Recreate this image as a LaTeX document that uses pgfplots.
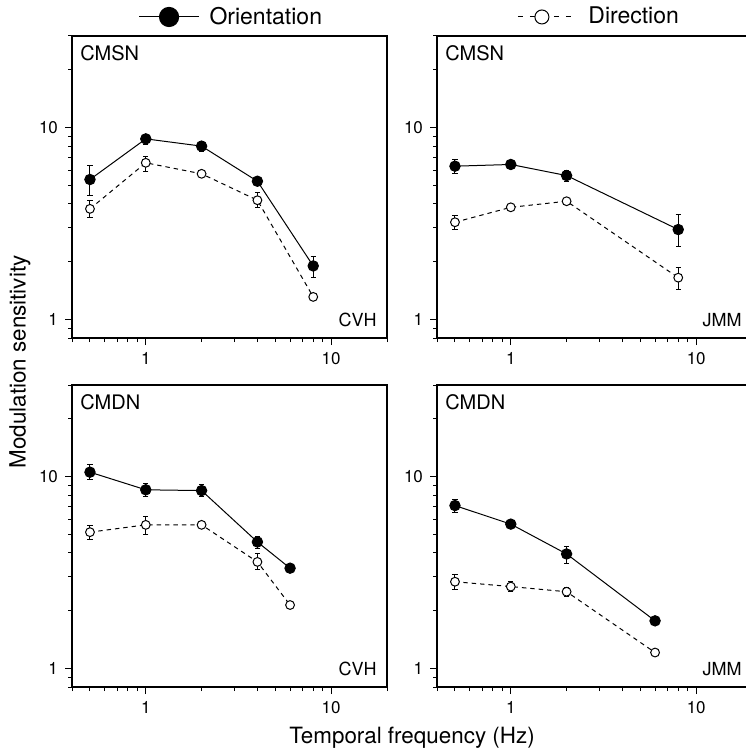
\documentclass[border=0pt]{standalone}
\usepackage{fontspec}
\setmainfont{TeX Gyre Heros}
\usepackage{pgfplots}
\usepackage{pgfplotstable}
\pgfplotsset{compat=1.18}

% x = temporal frequency (Hz), y = sensitivity, ep/em = error bar up/down
\pgfplotstableread{
x y ep em
0.5 5.36 1.00 0.92
1 8.73 0.47 0.58
2 8.00 0.42 0.53
4 5.25 0.26 0.25
8 1.90 0.24 0.25
}\cvhSNori
\pgfplotstableread{
x y ep em
0.5 3.77 0.41 0.39
1 6.55 0.54 0.63
2 5.74 0 0
4 4.18 0.39 0.37
8 1.31 0 0
}\cvhSNdir
\pgfplotstableread{
x y ep em
0.5 6.29 0.52 0.53
1 6.42 0 0
2 5.62 0.37 0.36
8 2.94 0.58 0.55
}\jmmSNori
\pgfplotstableread{
x y ep em
0.5 3.21 0.25 0.27
1 3.84 0 0
2 4.13 0 0
8 1.65 0.21 0.22
}\jmmSNdir
\pgfplotstableread{
x y ep em
0.5 10.54 1.06 0.94
1 8.53 0.63 0.67
2 8.45 0.60 0.59
4 4.56 0.30 0.33
6 3.33 0 0
}\cvhDNori
\pgfplotstableread{
x y ep em
0.5 5.13 0.42 0.42
1 5.60 0.58 0.64
2 5.60 0 0
4 3.59 0.36 0.33
6 2.14 0 0
}\cvhDNdir
\pgfplotstableread{
x y ep em
0.5 7.06 0.56 0.57
1 5.65 0 0
2 3.95 0.39 0.42
6 1.77 0 0
}\jmmDNori
\pgfplotstableread{
x y ep em
0.5 2.83 0.27 0.24
1 2.67 0.16 0.15
2 2.51 0.13 0.13
6 1.21 0 0
}\jmmDNdir

\pgfplotsset{
  every axis/.append style={
    anchor=north west,
    scale only axis,
    width=157.5pt, height=151pt,
    xmin=0.4, xmax=20, ymin=0.8, ymax=30,
    xtick={1,10}, ytick={1,10},
    xticklabels={1,10}, yticklabels={1,10},
    minor xtick={0.4,0.5,0.6,0.7,0.8,0.9,2,3,4,5,6,7,8,9,20},
    minor ytick={0.8,0.9,2,3,4,5,6,7,8,9,20,30},
    xtick pos=left, ytick pos=left,
    tick align=outside,
    major tick length=3.5pt, minor tick length=2pt,
    tick style={black, line width=0.5pt},
    axis line style={line width=0.6pt},
    ticklabel style={font=\fontsize{8.5}{10}\selectfont},
  },
  every axis legend/.append style={draw=none, fill=none, inner sep=0pt,
    column sep=3pt, font=\fontsize{11.5}{14}\selectfont},
  myerrs/.style={
    error bars/y dir=both, error bars/y explicit,
    error bars/error bar style={line width=0.5pt, solid},
    error bars/error mark options={rotate=90, mark size=1.3pt, line width=0.5pt, solid}},
  oriplot/.style={black, line width=0.5pt, mark=*, mark size=2.6pt,
    mark options={solid, fill=black}, myerrs},
  dirplot/.style={black, line width=0.5pt, dash pattern=on 2.2pt off 2pt,
    mark=*, mark size=2.2pt, mark options={solid, fill=white}, myerrs},
}
\tikzset{
  lblname/.style={font=\fontsize{10}{12}\selectfont, inner sep=0pt, anchor=north west},
  lblsubj/.style={font=\fontsize{9}{11}\selectfont, inner sep=0pt, anchor=south east},
}

\begin{document}
\begin{tikzpicture}
\path[use as bounding box] (0pt,0pt) rectangle (372.5pt,-377pt);

% top left: CMSN, CVH
\begin{loglogaxis}[at={(36pt,-18pt)},
  legend style={at={(axis description cs:0.21,1.063)}, anchor=west},
  legend image code/.code={
    \draw[mark repeat=2, mark phase=2, #1, mark size=4.8pt]
      plot coordinates {(0pt,0pt) (15pt,0pt) (30pt,0pt)};
  }]
\addplot[oriplot] table[x=x, y=y, y error plus=ep, y error minus=em] {\cvhSNori};
\addlegendentry{Orientation}
\addplot[dirplot, forget plot] table[x=x, y=y, y error plus=ep, y error minus=em] {\cvhSNdir};
\node[lblname] at (axis description cs:0.025,0.97) {CMSN};
\node[lblsubj] at (axis description cs:0.968,0.036) {CVH};
\end{loglogaxis}

% top right: CMSN, JMM
\begin{loglogaxis}[at={(218.5pt,-18pt)},
  legend style={at={(axis description cs:0.254,1.063)}, anchor=west},
  legend image code/.code={
    \draw[mark repeat=2, mark phase=2, #1, dash pattern=on 2.5pt off 3.5pt, mark size=3.5pt]
      plot coordinates {(0pt,0pt) (12pt,0pt) (30pt,0pt)};
  }]
\addplot[oriplot, forget plot] table[x=x, y=y, y error plus=ep, y error minus=em] {\jmmSNori};
\addplot[dirplot] table[x=x, y=y, y error plus=ep, y error minus=em] {\jmmSNdir};
\addlegendentry{Direction}
\node[lblname] at (axis description cs:0.025,0.97) {CMSN};
\node[lblsubj] at (axis description cs:0.968,0.036) {JMM};
\end{loglogaxis}

% bottom left: CMDN, CVH
\begin{loglogaxis}[at={(36pt,-192.5pt)}]
\addplot[oriplot] table[x=x, y=y, y error plus=ep, y error minus=em] {\cvhDNori};
\addplot[dirplot] table[x=x, y=y, y error plus=ep, y error minus=em] {\cvhDNdir};
\node[lblname] at (axis description cs:0.025,0.97) {CMDN};
\node[lblsubj] at (axis description cs:0.968,0.036) {CVH};
\end{loglogaxis}

% bottom right: CMDN, JMM
\begin{loglogaxis}[at={(218.5pt,-192.5pt)}]
\addplot[oriplot] table[x=x, y=y, y error plus=ep, y error minus=em] {\jmmDNori};
\addplot[dirplot] table[x=x, y=y, y error plus=ep, y error minus=em] {\jmmDNdir};
\node[lblname] at (axis description cs:0.025,0.97) {CMDN};
\node[lblsubj] at (axis description cs:0.968,0.036) {JMM};
\end{loglogaxis}

\node[font=\fontsize{11.2}{14}\selectfont] at (206pt,-369pt) {Temporal frequency (Hz)};
\node[font=\fontsize{11.2}{14}\selectfont, rotate=90] at (10pt,-181pt) {Modulation sensitivity};
\end{tikzpicture}
\end{document}
